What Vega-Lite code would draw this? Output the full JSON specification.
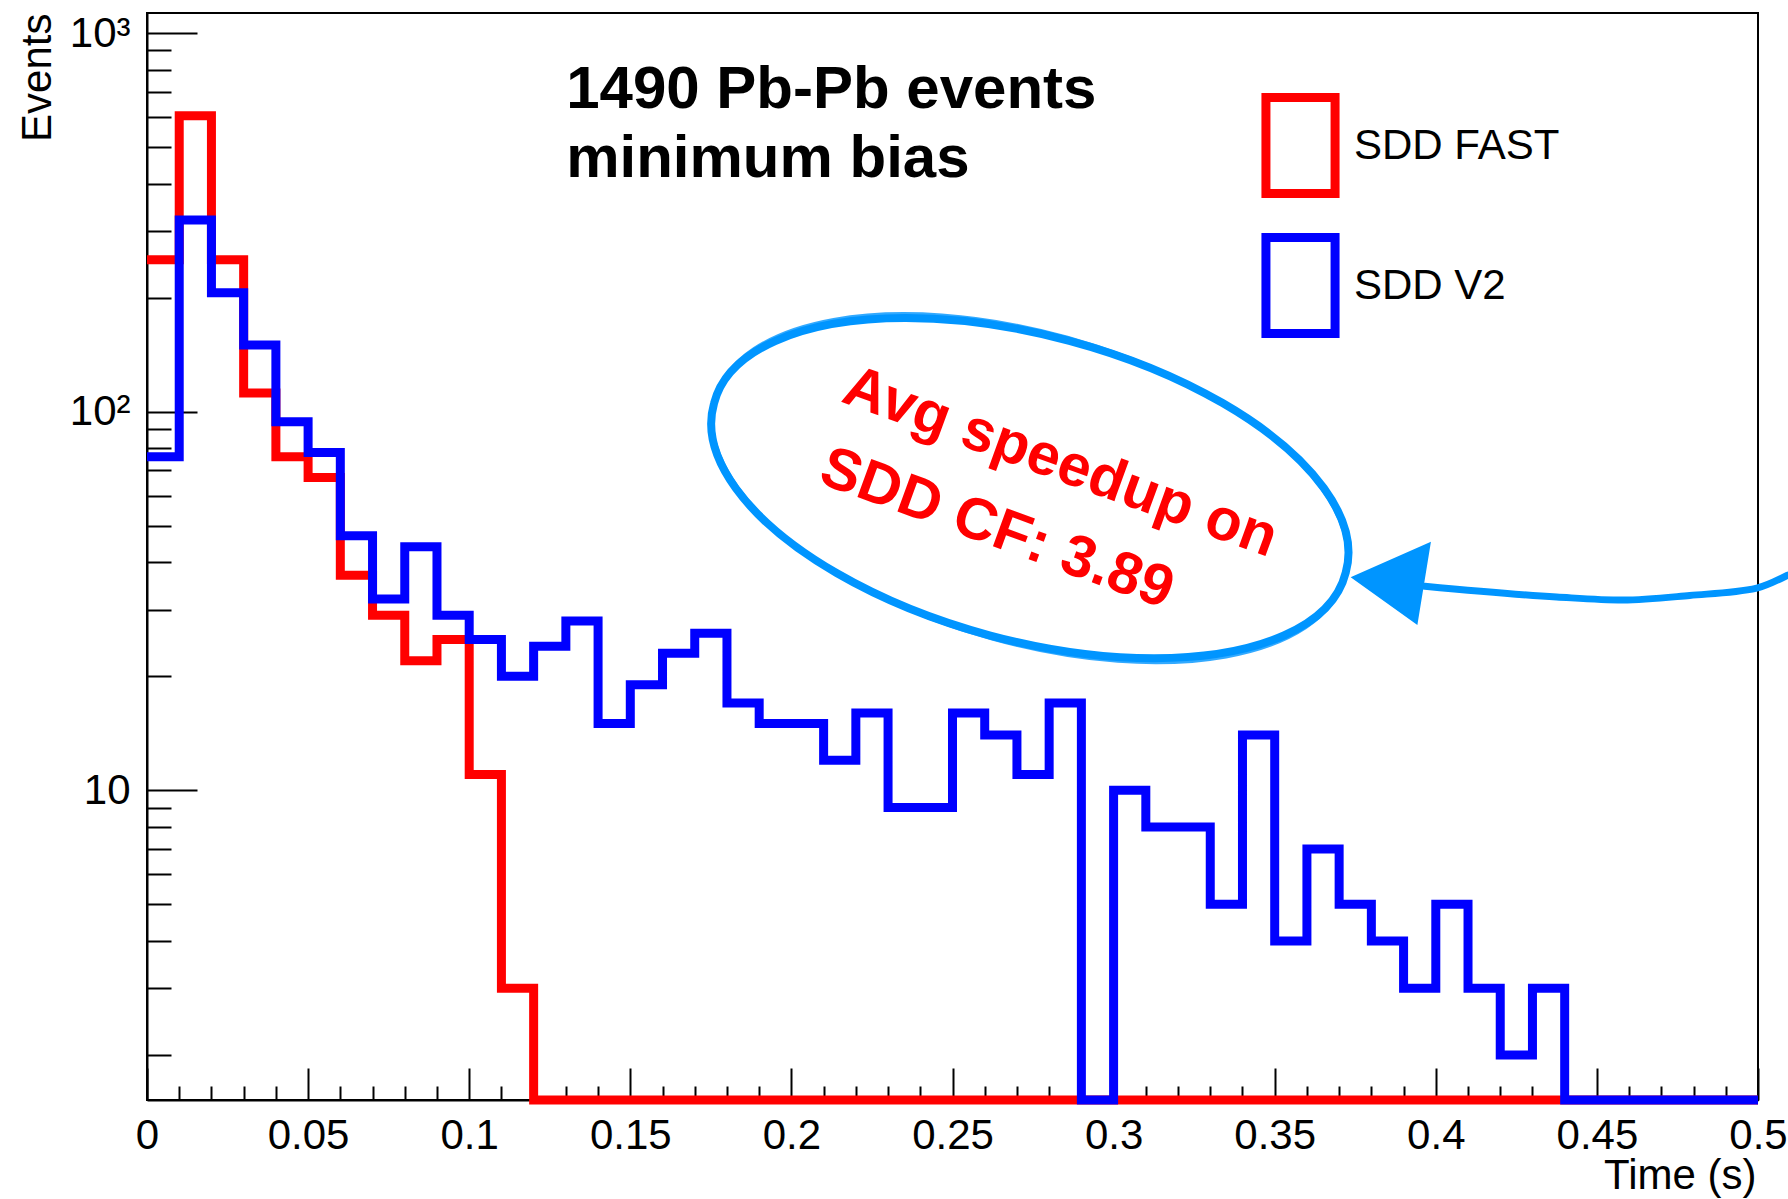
{
  "$schema": "https://vega.github.io/schema/vega-lite/v6.json",
  "width": 1611,
  "height": 1087,
  "autosize": {"type": "none"},
  "padding": {"left": 147, "top": 13, "right": 30, "bottom": 99},
  "background": "white",
  "config": {
    "view": {"stroke": "#000", "strokeWidth": 2},
    "font": "Liberation Sans",
    "axis": {
      "labelFont": "Liberation Sans", "titleFont": "Liberation Sans",
      "labelColor": "#000", "titleColor": "#000",
      "domainColor": "#000", "tickColor": "#000",
      "domainWidth": 2, "tickWidth": 2, "grid": false,
      "labelFontWeight": "normal", "titleFontWeight": "normal",
      "labelOverlap": false
    }
  },
  "datasets": {
    "hist": [
      {"series": "SDD FAST", "t": 0, "n": 252}, {"series": "SDD FAST", "t": 0.01, "n": 605}, {"series": "SDD FAST", "t": 0.02, "n": 252},
      {"series": "SDD FAST", "t": 0.03, "n": 112}, {"series": "SDD FAST", "t": 0.04, "n": 76}, {"series": "SDD FAST", "t": 0.05, "n": 67},
      {"series": "SDD FAST", "t": 0.06, "n": 37}, {"series": "SDD FAST", "t": 0.07, "n": 29}, {"series": "SDD FAST", "t": 0.08, "n": 22},
      {"series": "SDD FAST", "t": 0.09, "n": 25}, {"series": "SDD FAST", "t": 0.1, "n": 11}, {"series": "SDD FAST", "t": 0.11, "n": 3},
      {"series": "SDD FAST", "t": 0.12, "n": 0}, {"series": "SDD FAST", "t": 0.13, "n": 0}, {"series": "SDD FAST", "t": 0.14, "n": 0},
      {"series": "SDD FAST", "t": 0.15, "n": 0}, {"series": "SDD FAST", "t": 0.16, "n": 0}, {"series": "SDD FAST", "t": 0.17, "n": 0},
      {"series": "SDD FAST", "t": 0.18, "n": 0}, {"series": "SDD FAST", "t": 0.19, "n": 0}, {"series": "SDD FAST", "t": 0.2, "n": 0},
      {"series": "SDD FAST", "t": 0.21, "n": 0}, {"series": "SDD FAST", "t": 0.22, "n": 0}, {"series": "SDD FAST", "t": 0.23, "n": 0},
      {"series": "SDD FAST", "t": 0.24, "n": 0}, {"series": "SDD FAST", "t": 0.25, "n": 0}, {"series": "SDD FAST", "t": 0.26, "n": 0},
      {"series": "SDD FAST", "t": 0.27, "n": 0}, {"series": "SDD FAST", "t": 0.28, "n": 0}, {"series": "SDD FAST", "t": 0.29, "n": 0},
      {"series": "SDD FAST", "t": 0.3, "n": 0}, {"series": "SDD FAST", "t": 0.31, "n": 0}, {"series": "SDD FAST", "t": 0.32, "n": 0},
      {"series": "SDD FAST", "t": 0.33, "n": 0}, {"series": "SDD FAST", "t": 0.34, "n": 0}, {"series": "SDD FAST", "t": 0.35, "n": 0},
      {"series": "SDD FAST", "t": 0.36, "n": 0}, {"series": "SDD FAST", "t": 0.37, "n": 0}, {"series": "SDD FAST", "t": 0.38, "n": 0},
      {"series": "SDD FAST", "t": 0.39, "n": 0}, {"series": "SDD FAST", "t": 0.4, "n": 0}, {"series": "SDD FAST", "t": 0.41, "n": 0},
      {"series": "SDD FAST", "t": 0.42, "n": 0}, {"series": "SDD FAST", "t": 0.43, "n": 0}, {"series": "SDD FAST", "t": 0.44, "n": 0},
      {"series": "SDD FAST", "t": 0.45, "n": 0}, {"series": "SDD FAST", "t": 0.46, "n": 0}, {"series": "SDD FAST", "t": 0.47, "n": 0},
      {"series": "SDD FAST", "t": 0.48, "n": 0}, {"series": "SDD FAST", "t": 0.49, "n": 0}, {"series": "SDD FAST", "t": 0.5, "n": 0},
      {"series": "SDD V2", "t": 0, "n": 76}, {"series": "SDD V2", "t": 0.01, "n": 321}, {"series": "SDD V2", "t": 0.02, "n": 206},
      {"series": "SDD V2", "t": 0.03, "n": 150}, {"series": "SDD V2", "t": 0.04, "n": 94}, {"series": "SDD V2", "t": 0.05, "n": 78},
      {"series": "SDD V2", "t": 0.06, "n": 47}, {"series": "SDD V2", "t": 0.07, "n": 32}, {"series": "SDD V2", "t": 0.08, "n": 44},
      {"series": "SDD V2", "t": 0.09, "n": 29}, {"series": "SDD V2", "t": 0.1, "n": 25}, {"series": "SDD V2", "t": 0.11, "n": 20},
      {"series": "SDD V2", "t": 0.12, "n": 24}, {"series": "SDD V2", "t": 0.13, "n": 28}, {"series": "SDD V2", "t": 0.14, "n": 15},
      {"series": "SDD V2", "t": 0.15, "n": 19}, {"series": "SDD V2", "t": 0.16, "n": 23}, {"series": "SDD V2", "t": 0.17, "n": 26},
      {"series": "SDD V2", "t": 0.18, "n": 17}, {"series": "SDD V2", "t": 0.19, "n": 15}, {"series": "SDD V2", "t": 0.2, "n": 15},
      {"series": "SDD V2", "t": 0.21, "n": 12}, {"series": "SDD V2", "t": 0.22, "n": 16}, {"series": "SDD V2", "t": 0.23, "n": 9},
      {"series": "SDD V2", "t": 0.24, "n": 9}, {"series": "SDD V2", "t": 0.25, "n": 16}, {"series": "SDD V2", "t": 0.26, "n": 14},
      {"series": "SDD V2", "t": 0.27, "n": 11}, {"series": "SDD V2", "t": 0.28, "n": 17}, {"series": "SDD V2", "t": 0.29, "n": 0},
      {"series": "SDD V2", "t": 0.3, "n": 10}, {"series": "SDD V2", "t": 0.31, "n": 8}, {"series": "SDD V2", "t": 0.32, "n": 8},
      {"series": "SDD V2", "t": 0.33, "n": 5}, {"series": "SDD V2", "t": 0.34, "n": 14}, {"series": "SDD V2", "t": 0.35, "n": 4},
      {"series": "SDD V2", "t": 0.36, "n": 7}, {"series": "SDD V2", "t": 0.37, "n": 5}, {"series": "SDD V2", "t": 0.38, "n": 4},
      {"series": "SDD V2", "t": 0.39, "n": 3}, {"series": "SDD V2", "t": 0.4, "n": 5}, {"series": "SDD V2", "t": 0.41, "n": 3},
      {"series": "SDD V2", "t": 0.42, "n": 2}, {"series": "SDD V2", "t": 0.43, "n": 3}, {"series": "SDD V2", "t": 0.44, "n": 0},
      {"series": "SDD V2", "t": 0.45, "n": 0}, {"series": "SDD V2", "t": 0.46, "n": 0}, {"series": "SDD V2", "t": 0.47, "n": 0},
      {"series": "SDD V2", "t": 0.48, "n": 0}, {"series": "SDD V2", "t": 0.49, "n": 0}, {"series": "SDD V2", "t": 0.5, "n": 0}
    ],
    "notes": [
      {"t": 0.1301, "n": 634, "text": "1490 Pb-Pb events"},
      {"t": 0.1301, "n": 416, "text": "minimum bias"}
    ],
    "callout": [
      {"t": 0.215, "n": 106.6, "text": "Avg speedup on"},
      {"t": 0.2079, "n": 65.1, "text": "SDD CF: 3.89"}
    ],
    "ellipse": [{"t": 0.274, "n": 62.8}],
    "arrow": [
      {"t": 0.3966, "n": 34.6}, {"t": 0.4375, "n": 32.4}, {"t": 0.458, "n": 31.8},
      {"t": 0.4788, "n": 32.7}, {"t": 0.4996, "n": 34.2}, {"t": 0.5092, "n": 37.0}
    ],
    "head": [{"t": 0.3863, "n": 35.2}]
  },
  "layer": [
    {
      "data": {"name": "hist"},
      "mark": {"type": "line", "interpolate": "step-after", "strokeWidth": 9, "strokeJoin": "miter", "strokeCap": "butt"},
      "encoding": {
        "x": {
          "field": "t", "type": "quantitative", "title": "Time (s)",
          "scale": {"domain": [0, 0.5], "nice": false, "zero": false},
          "axis": {
            "values": [0,0.01,0.02,0.03,0.04,0.05,0.06,0.07,0.08,0.09,0.1,0.11,0.12,0.13,0.14,0.15,0.16,0.17,0.18,0.19,0.2,0.21,0.22,0.23,0.24,0.25,0.26,0.27,0.28,0.29,0.3,0.31,0.32,0.33,0.34,0.35,0.36,0.37,0.38,0.39,0.4,0.41,0.42,0.43,0.44,0.45,0.46,0.47,0.48,0.49,0.5],
            "tickCount": 200,
            "labelExpr": "round(datum.value*100) % 5 == 0 ? '' + datum.value : ''",
            "tickSize": {"condition": {"test": "round(datum.value*100) % 5 == 0", "value": -32}, "value": -14},
            "labelPadding": 47, "labelFontSize": 42, "labelFlush": false, "labelOverlap": false,
            "titleFontSize": 42, "titleX": 1609, "titleY": 88, "titleAlign": "right", "titleAnchor": "end", "titleBaseline": "alphabetic"
          }
        },
        "y": {
          "field": "n", "type": "quantitative", "title": "Events",
          "scale": {"type": "log", "domain": [1.52, 1130], "nice": false, "clamp": true},
          "axis": {
            "values": [2,3,4,5,6,7,8,9,10,20,30,40,50,60,70,80,90,100,200,300,400,500,600,700,800,900,1000],
            "tickCount": 200,
            "labelExpr": "datum.value == 1000 ? '10³' : datum.value == 100 ? '10²' : datum.value == 10 ? '10' : ''",
            "tickSize": {"condition": {"test": "datum.value == 10 || datum.value == 100 || datum.value == 1000", "value": -50}, "value": -24},
            "labelPadding": 67, "labelFontSize": 42, "labelOverlap": false,
            "titleFontSize": 42, "titleX": -97, "titleY": 0, "titleAlign": "right", "titleAngle": -90, "titleBaseline": "alphabetic"
          }
        },
        "color": {
          "field": "series", "type": "nominal",
          "scale": {"domain": ["SDD FAST", "SDD V2"], "range": ["#ff0000", "#0000ff"]},
          "legend": {
            "title": null, "orient": "none", "legendX": 1101, "legendY": 80, "padding": 0,
            "symbolType": "M-0.72,-1H0.72V1H-0.72Z", "symbolSize": 9216, "symbolStrokeWidth": 9,
            "symbolFillColor": "transparent", "labelFontSize": 42, "labelFont": "Liberation Sans",
            "labelColor": "#000", "labelOffset": 1, "labelLimit": 500, "rowPadding": 7
          }
        }
      }
    },
    {
      "data": {"name": "notes"},
      "mark": {"type": "text", "align": "left", "baseline": "alphabetic", "fontSize": 60, "fontWeight": "bold", "font": "Liberation Sans", "color": "#000"},
      "encoding": {
        "x": {"field": "t", "type": "quantitative", "title": "Time (s)"},
        "y": {"field": "n", "type": "quantitative", "title": "Events"},
        "text": {"field": "text"}
      }
    },
    {
      "data": {"name": "ellipse"},
      "mark": {"type": "point", "shape": "M-0.9659,-0.2588A1,0.463,15,1,1,0.9659,0.2588A1,0.463,15,1,1,-0.9659,-0.2588Z", "size": 427716, "filled": false, "stroke": "#0095ff", "strokeWidth": 8, "opacity": 1},
      "encoding": {
        "x": {"field": "t", "type": "quantitative", "title": "Time (s)"},
        "y": {"field": "n", "type": "quantitative", "title": "Events"}
      }
    },
    {
      "data": {"name": "ellipse"},
      "mark": {"type": "point", "shape": "M-0.97,-0.27A1,0.475,16,1,1,0.97,0.27A1,0.475,16,1,1,-0.97,-0.27Z", "size": 422500, "filled": false, "stroke": "#0095ff", "strokeWidth": 3, "opacity": 0.8},
      "encoding": {
        "x": {"field": "t", "type": "quantitative", "title": "Time (s)"},
        "y": {"field": "n", "type": "quantitative", "title": "Events"}
      }
    },
    {
      "data": {"name": "arrow"},
      "mark": {"type": "line", "interpolate": "monotone", "strokeWidth": 7, "color": "#0095ff", "strokeCap": "round"},
      "encoding": {
        "x": {"field": "t", "type": "quantitative", "title": "Time (s)"},
        "y": {"field": "n", "type": "quantitative", "title": "Events"}
      }
    },
    {
      "data": {"name": "head"},
      "mark": {"type": "point", "shape": "M-0.975,-0.15L0.95,-1L0.625,1Z", "size": 6400, "filled": true, "fill": "#0095ff", "stroke": "#0095ff", "strokeWidth": 2, "opacity": 1},
      "encoding": {
        "x": {"field": "t", "type": "quantitative", "title": "Time (s)"},
        "y": {"field": "n", "type": "quantitative", "title": "Events"}
      }
    },
    {
      "data": {"name": "callout"},
      "mark": {"type": "text", "align": "left", "baseline": "alphabetic", "angle": 20, "fontSize": 59, "fontWeight": "bold", "font": "Liberation Sans", "color": "#ff0000"},
      "encoding": {
        "x": {"field": "t", "type": "quantitative", "title": "Time (s)"},
        "y": {"field": "n", "type": "quantitative", "title": "Events"},
        "text": {"field": "text"}
      }
    }
  ]
}
